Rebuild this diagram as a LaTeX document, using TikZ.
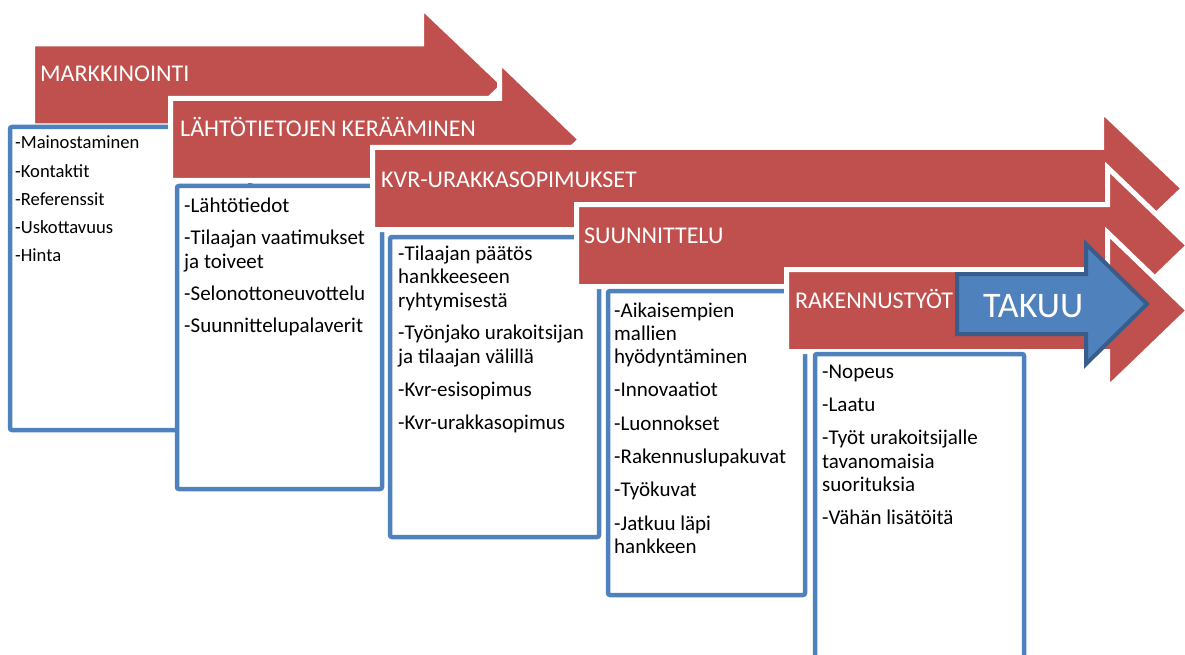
\documentclass[tikz,border=0pt]{standalone}
\usepackage{fontspec}
\setmainfont{Carlito}
\definecolor{arrowred}{HTML}{C0504D}
\definecolor{boxblue}{HTML}{4F81BD}
\definecolor{takuuedge}{HTML}{385D8A}
\tikzset{
  redarrow/.style={fill=arrowred, draw=white, line width=5pt, line join=miter},
  itembox/.style={fill=white, draw=boxblue, line width=4.5pt, rounded corners=2pt},
  takuuarrow/.style={fill=boxblue, draw=takuuedge, line width=4pt, line join=miter},
  header/.style={anchor=base west, inner sep=0pt, text=white, font=\fontsize{24}{28}\selectfont},
  boxtext/.style={anchor=base west, inner sep=0pt, text=black},
}
% left x, centre y, head x, tip x
\newcommand{\phasearrow}[4]{%
  \path[redarrow] (#1,#2-41) -- (#3,#2-41) -- (#3,#2-78) -- (#4,#2)
     -- (#3,#2+78) -- (#3,#2+41) -- (#1,#2+41) -- cycle;}
\begin{document}
\begin{tikzpicture}[x=1pt,y=-1pt]
\useasboundingbox (0,0) rectangle (1185,655);
\clip (0,0) rectangle (1185,655);

% 1 MARKKINOINTI
\phasearrow{32.5}{85}{421.5}{503.5}
\node[header] (h1) at (40,82) {MARKKINOINTI};
\path[itembox] (10,127) rectangle (250,430);
\node[boxtext] (t1) at (15,149) {\vtop{\fontsize{18.6}{28.2}\selectfont
  \hbox{-Mainostaminen}\hbox{-Kontaktit}\hbox{-Referenssit}\hbox{-Uskottavuus}\hbox{-Hinta}}};

% 2 LÄHTÖTIETOJEN KERÄÄMINEN
\phasearrow{170.5}{139.5}{499.5}{580.5}
\node[header] (h2) at (180,137) {LÄHTÖTIETOJEN KERÄÄMINEN};
\path[itembox] (177,186) rectangle (382,489);
\node[boxtext] (t2) at (184,212) {\vtop{\fontsize{21}{24}\selectfont
  \hbox{-Lähtötiedot}\vskip8pt
  \hbox{-Tilaajan vaatimukset}\hbox{ja toiveet}\vskip8pt
  \hbox{-Selonottoneuvottelu}\vskip8pt
  \hbox{-Suunnittelupalaverit}}};

% 3 KVR-URAKKASOPIMUKSET
\phasearrow{372.5}{188.5}{1101.5}{1183.5}
\node[header] (h3) at (381,187) {KVR-URAKKASOPIMUKSET};
\path[itembox] (390,237) rectangle (599,537);
\node[boxtext] (t3) at (398,260) {\vtop{\fontsize{21}{23.5}\selectfont
  \hbox{-Tilaajan päätös}\hbox{hankkeeseen}\hbox{ryhtymisestä}\vskip9pt
  \hbox{-Työnjako urakoitsijan}\hbox{ja tilaajan välillä}\vskip9.5pt
  \hbox{-Kvr-esisopimus}\vskip9.5pt
  \hbox{-Kvr-urakkasopimus}}};

% 4 SUUNNITTELU
\phasearrow{576.5}{245.5}{1107.5}{1188.5}
\node[header] (h4) at (584,243) {SUUNNITTELU};
\path[itembox] (608,291) rectangle (805,595);
\node[boxtext] (t4) at (614,317) {\vtop{\fontsize{21}{23.3}\selectfont
  \hbox{-Aikaisempien}\hbox{mallien}\hbox{hyödyntäminen}\vskip10pt
  \hbox{-Innovaatiot}\vskip10pt
  \hbox{-Luonnokset}\vskip10pt
  \hbox{-Rakennuslupakuvat}\vskip10pt
  \hbox{-Työkuvat}\vskip10pt
  \hbox{-Jatkuu läpi}\hbox{hankkeen}}};

% 5 RAKENNUSTYÖT
\phasearrow{786.5}{310.5}{1107.5}{1188.5}
\node[header] (h5) at (795,308) {RAKENNUSTYÖT};
\path[itembox] (815,354) rectangle (1024,680);
\node[boxtext] (t5) at (822,378.5) {\vtop{\fontsize{21}{23.5}\selectfont
  \hbox{-Nopeus}\vskip9.5pt
  \hbox{-Laatu}\vskip9.5pt
  \hbox{-Työt urakoitsijalle}\hbox{tavanomaisia}\hbox{suorituksia}\vskip9.5pt
  \hbox{-Vähän lisätöitä}}};

% TAKUU
\path[takuuarrow] (957,274) -- (1086,274) -- (1086,244) -- (1147,304)
   -- (1086,364) -- (1086,334) -- (957,334) -- cycle;
\node[anchor=base west, inner sep=0pt, text=white, font=\fontsize{36}{40}\selectfont] (tk) at (983,317) {TAKUU};
\end{tikzpicture}
\end{document}
